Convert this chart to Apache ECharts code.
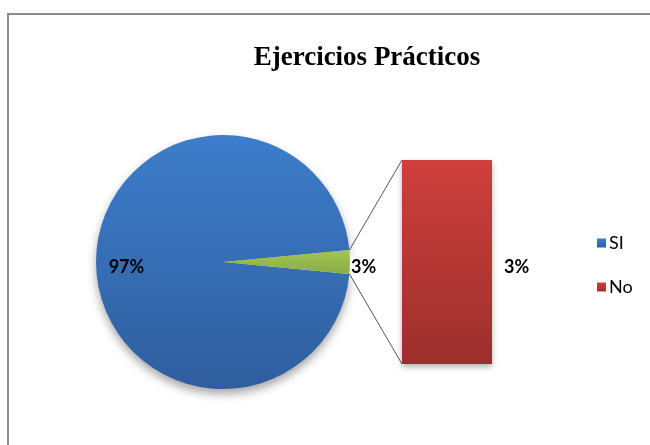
<!DOCTYPE html>
<html>
<head>
<meta charset="utf-8">
<script src="https://cdn.jsdelivr.net/npm/echarts@6/dist/echarts.min.js"></script>
<style>
html,body{margin:0;padding:0;background:#fff;}
#chart{width:650px;height:445px;}
</style>
</head>
<body>
<div id="chart"></div>
<script>
// ---- data ----
var titleText = 'Ejercicios Prácticos';
var pieNames = ['SI', 'Otros'];
var pieValues = [97, 3];
var barNames = ['No'];
var barValues = [3];
var legendNames = ['SI', 'No'];

var PIE_CENTER = [223, 262];
var PIE_R = 127;

var chart = echarts.init(document.getElementById('chart'), null, {renderer: 'canvas'});

var total = pieValues.reduce(function (a, b) { return a + b; }, 0);
var smallAngle = pieValues[1] / total * 360;
// centre the small slice on the right-hand side
var startAngle = smallAngle / 2 + (360 - smallAngle);

function grad(c1, c2) {
  return new echarts.graphic.LinearGradient(0, 0, 0, 1, [
    {offset: 0, color: c1}, {offset: 1, color: c2}
  ]);
}

var labelFont = {
  fontFamily: 'Lato',
  fontWeight: 'bold',
  fontSize: 18,
  color: '#000'
};

var option = {
  animation: false,
  backgroundColor: '#ffffff',
  title: {
    text: titleText,
    left: 362,
    textAlign: 'center',
    top: 40,
    textStyle: {
      fontFamily: 'Liberation Serif',
      fontWeight: 'bold',
      fontSize: 27,
      color: '#000'
    }
  },
  legend: {
    data: legendNames,
    orient: 'vertical',
    left: 592,
    top: 229,
    icon: 'rect',
    itemWidth: 9,
    itemHeight: 9,
    itemGap: 26,
    textStyle: {fontFamily: 'Lato', fontSize: 18, color: '#000', padding: [0, 0, 0, -2]}
  },
  grid: {left: 402, top: 160, width: 90, height: 204},
  xAxis: {type: 'category', data: barNames, show: false},
  yAxis: {type: 'value', min: 0, max: 3, show: false},
  series: [
    {
      type: 'pie',
      name: 'Ejercicios',
      center: PIE_CENTER,
      radius: PIE_R,
      startAngle: startAngle,
      clockwise: true,
      silent: true,
      data: pieNames.map(function (n, i) {
        var isMain = i === 0;
        return {
          name: n,
          value: pieValues[i],
          itemStyle: {
            color: isMain ? grad('#3d7dcb', '#2f5e9e') : grad('#a2c653', '#8aad45'),
            shadowBlur: isMain ? 10 : 0,
            shadowOffsetY: isMain ? 5 : 0,
            shadowColor: 'rgba(0,0,0,0.35)'
          },
          label: isMain ? {
            position: 'inside',
            padding: [0, 60, 0, 0]
          } : {
            position: 'outside',
            distanceToLabelLine: 0
          },
          labelLine: {show: false, length: 1, length2: 0}
        };
      }),
      label: Object.assign({
        formatter: function (p) { return '{gap|}\n{v|' + p.value + '%}'; },
        rich: {
          gap: {fontSize: 1, lineHeight: 11},
          v: Object.assign({lineHeight: 20}, labelFont)
        }
      }, labelFont)
    },
    {
      type: 'bar',
      name: 'No',
      data: barValues,
      barWidth: '100%',
      silent: true,
      itemStyle: {
        color: grad('#cf3f3c', '#9c2f2c'),
        shadowBlur: 6,
        shadowOffsetY: 3,
        shadowColor: 'rgba(0,0,0,0.3)'
      },
      label: Object.assign({
        show: true,
        position: 'right',
        distance: 12,
        offset: [0, 5],
        formatter: function (p) { return p.value + '%'; }
      }, labelFont)
    }
  ]
};
chart.setOption(option);

// connector lines between the small slice and the bar, derived from the data
var half = smallAngle / 2 * Math.PI / 180;
var ex = PIE_CENTER[0] + PIE_R * Math.cos(half);
var eyTop = PIE_CENTER[1] - PIE_R * Math.sin(half);
var eyBot = PIE_CENTER[1] + PIE_R * Math.sin(half);
var rect = chart.getModel().getComponent('grid').coordinateSystem.getRect();
var barTop = chart.convertToPixel({yAxisIndex: 0}, barValues[0]);
var barBot = chart.convertToPixel({yAxisIndex: 0}, 0);

chart.setOption({
  graphic: [
    {
      type: 'rect', silent: true, z: -1,
      shape: {x: 8, y: 14, width: 700, height: 500},
      style: {fill: null, stroke: '#8c8c8c', lineWidth: 2}
    },
    {
      type: 'line', silent: true,
      shape: {x1: ex, y1: eyTop, x2: rect.x, y2: barTop},
      style: {stroke: '#555', lineWidth: 1}
    },
    {
      type: 'line', silent: true,
      shape: {x1: ex, y1: eyBot, x2: rect.x, y2: barBot},
      style: {stroke: '#555', lineWidth: 1}
    }
  ]
});
</script>
</body>
</html>
